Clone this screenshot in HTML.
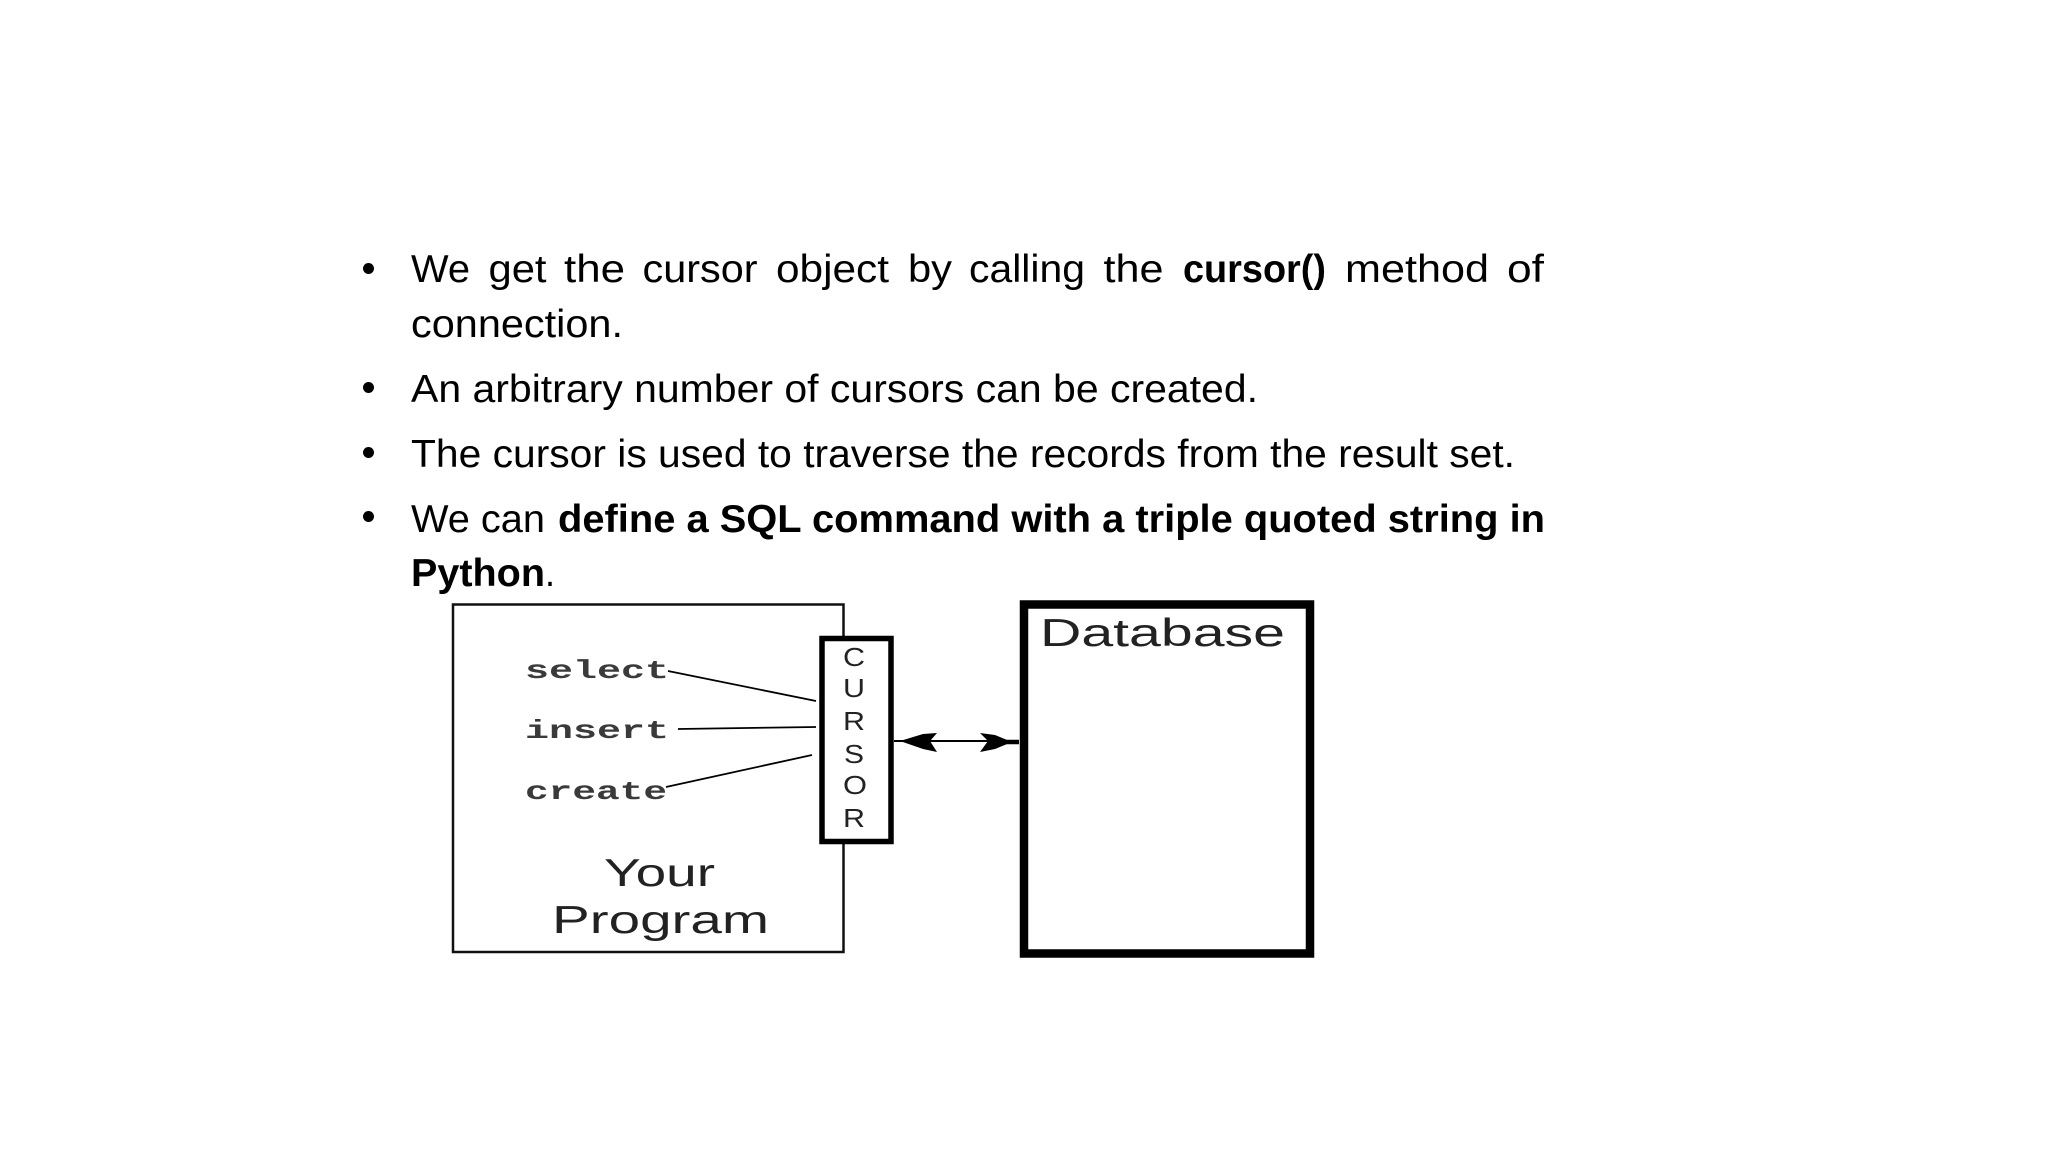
<!DOCTYPE html>
<html>
<head>
<meta charset="utf-8">
<style>
html,body{margin:0;padding:0;background:#fff;width:2048px;height:1152px;overflow:hidden}
svg{display:block}
.t{font-family:"Liberation Sans",sans-serif;font-size:39px;fill:#000}
.b{font-weight:bold}
.d{font-family:"Liberation Sans",sans-serif;font-size:39px;fill:#222}
.c{font-family:"Liberation Sans",sans-serif;font-size:26px;fill:#222}
.m{font-family:"Liberation Mono",monospace;font-size:26px;font-weight:bold;fill:#3a3a3a}
</style>
</head>
<body>
<svg width="2048" height="1152" viewBox="0 0 2048 1152" xmlns="http://www.w3.org/2000/svg">
<rect width="2048" height="1152" fill="#fff"/>
<g fill="#000">
<circle cx="368.5" cy="268.5" r="5.5"/>
<circle cx="368.5" cy="387.5" r="5.5"/>
<circle cx="368.5" cy="452.5" r="5.5"/>
<circle cx="368.5" cy="516.5" r="5.5"/>
</g>
<text class="t" x="411" y="282" textLength="59" lengthAdjust="spacingAndGlyphs">We</text>
<text class="t" x="488.5" y="282" textLength="58" lengthAdjust="spacingAndGlyphs">get</text>
<text class="t" x="564" y="282" textLength="61" lengthAdjust="spacingAndGlyphs">the</text>
<text class="t" x="642.5" y="282" textLength="115" lengthAdjust="spacingAndGlyphs">cursor</text>
<text class="t" x="776" y="282" textLength="113" lengthAdjust="spacingAndGlyphs">object</text>
<text class="t" x="908" y="282" textLength="44" lengthAdjust="spacingAndGlyphs">by</text>
<text class="t" x="969" y="282" textLength="116" lengthAdjust="spacingAndGlyphs">calling</text>
<text class="t" x="1103.5" y="282" textLength="60" lengthAdjust="spacingAndGlyphs">the</text>
<text class="t b" x="1183" y="282" textLength="143" lengthAdjust="spacingAndGlyphs">cursor()</text>
<text class="t" x="1345" y="282" textLength="144" lengthAdjust="spacingAndGlyphs">method</text>
<text class="t" x="1507" y="282" textLength="37" lengthAdjust="spacingAndGlyphs">of</text>
<text class="t" x="411" y="337" textLength="212" lengthAdjust="spacingAndGlyphs">connection.</text>
<text class="t" x="411" y="402" textLength="847" lengthAdjust="spacingAndGlyphs">An arbitrary number of cursors can be created.</text>
<text class="t" x="411" y="467" textLength="1104" lengthAdjust="spacingAndGlyphs">The cursor is used to traverse the records from the result set.</text>
<text class="t" x="411" y="532" textLength="134" lengthAdjust="spacingAndGlyphs">We can</text>
<text class="t b" x="558" y="532" textLength="987" lengthAdjust="spacingAndGlyphs">define a SQL command with a triple quoted string in</text>
<text class="t b" x="411" y="586" textLength="134" lengthAdjust="spacingAndGlyphs">Python</text>
<text class="t" x="545" y="586" textLength="10" lengthAdjust="spacingAndGlyphs">.</text>

<!-- Your Program box -->
<rect x="453" y="604.5" width="390.5" height="347.5" fill="#fff" stroke="#111" stroke-width="2.5"/>
<!-- Cursor box -->
<rect x="822" y="638.5" width="69" height="203" fill="#fff" stroke="#000" stroke-width="5.5"/>
<!-- Database box -->
<rect x="1024" y="604.5" width="286" height="349" fill="#fff" stroke="#000" stroke-width="8.5"/>

<!-- Leader lines -->
<g stroke="#000" stroke-width="1.8" fill="none">
<line x1="668" y1="671" x2="816" y2="701"/>
<line x1="678" y1="729" x2="816" y2="727"/>
<line x1="666" y1="787" x2="812" y2="755"/>
</g>

<!-- Double arrow -->
<line x1="894" y1="741" x2="1019" y2="741" stroke="#000" stroke-width="2"/>
<line x1="1005" y1="742" x2="1019" y2="742" stroke="#000" stroke-width="4.5"/>
<polygon points="900,741 923,734 937,733 930,741 937,752 923,749" fill="#000"/>
<polygon points="1012,742 995,735 980,733 988,741 980,752 995,749" fill="#000"/>

<!-- Labels -->
<text class="m" x="525" y="678" textLength="144" lengthAdjust="spacingAndGlyphs">select</text>
<text class="m" x="525" y="738" textLength="144" lengthAdjust="spacingAndGlyphs">insert</text>
<text class="m" x="525" y="799" textLength="142" lengthAdjust="spacingAndGlyphs">create</text>

<text class="d" x="604" y="886" textLength="111" lengthAdjust="spacingAndGlyphs">Your</text>
<text class="d" x="552" y="933" textLength="217" lengthAdjust="spacingAndGlyphs">Program</text>
<text class="d" x="1040" y="646" textLength="245" lengthAdjust="spacingAndGlyphs">Database</text>

<text class="c" x="843" y="666" textLength="22" lengthAdjust="spacingAndGlyphs">C</text>
<text class="c" x="843" y="697" textLength="22" lengthAdjust="spacingAndGlyphs">U</text>
<text class="c" x="843" y="730" textLength="22" lengthAdjust="spacingAndGlyphs">R</text>
<text class="c" x="844" y="763" textLength="20" lengthAdjust="spacingAndGlyphs">S</text>
<text class="c" x="843" y="794" textLength="24" lengthAdjust="spacingAndGlyphs">O</text>
<text class="c" x="843" y="827" textLength="22" lengthAdjust="spacingAndGlyphs">R</text>
</svg>
</body>
</html>
